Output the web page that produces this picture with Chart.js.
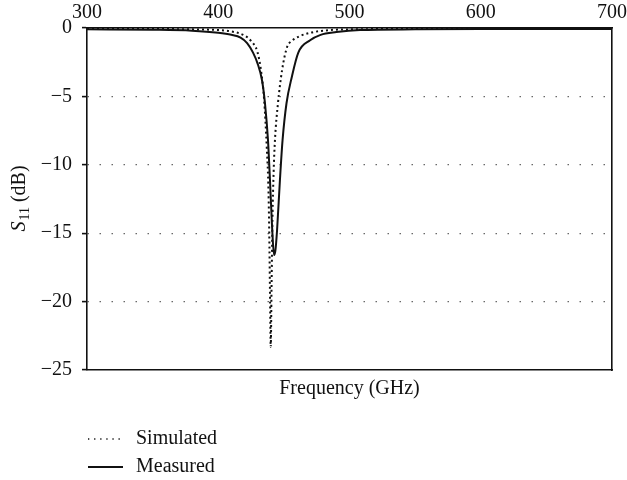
<!DOCTYPE html>
<html>
<head>
<meta charset="utf-8">
<script src="https://cdn.jsdelivr.net/npm/chart.js@4.4.1/dist/chart.umd.min.js"></script>
<style>
  html,body{margin:0;padding:0;background:#fff;}
  #wrap{width:627px;height:480px;position:relative;}
</style>
</head>
<body>
<div id="wrap"><canvas id="c" width="627" height="480"></canvas></div>
<script>
// frequency (GHz) / S11 (dB)
const freqSim = [300, 350, 380, 400, 410, 420, 425, 430, 433, 435, 437, 438.3, 439, 439.5, 440, 440.6, 441.3, 442.2, 443.2, 445.5, 448.6, 452.4, 456, 462, 470, 485, 500, 550, 600, 700];
const s11Sim  = [-0.05, -0.07, -0.1, -0.15, -0.25, -0.55, -0.95, -1.8, -3.4, -5.3, -8.8, -12, -16, -20, -23.3, -19, -14, -10.5, -8.2, -5.5, -3.1, -1.4, -0.95, -0.6, -0.35, -0.15, -0.1, -0.07, -0.05, -0.05];

const freqMeas = [300, 350, 380, 400, 410, 417, 422, 426.5, 430, 433.3, 435.6, 437.9, 439.4, 441, 442.5, 443.5, 444.8, 447, 449, 452, 456, 461, 470, 478, 490, 508, 550, 600, 700];
const s11Meas  = [-0.1, -0.13, -0.2, -0.35, -0.5, -0.7, -1.1, -1.8, -2.6, -3.8, -5.5, -8.2, -11.1, -14.5, -16.6, -16.3, -14.8, -11.1, -8.2, -5.5, -3.6, -1.8, -0.9, -0.5, -0.3, -0.15, -0.1, -0.08, -0.08];

const xTicks = [300, 400, 500, 600, 700];
const yTicks = [0, -5, -10, -15, -20, -25];

const FONT = "'Liberation Serif', 'DejaVu Serif', serif";

function pts(xs, ys){ return xs.map((x,i)=>({x:x, y:ys[i]})); }
function minus(v){ return v < 0 ? "\u2212" + Math.abs(v) : String(v); }

// y title: italic S with subscript 11
const yTitle = {
  id: "yTitle",
  afterDraw(chart){
    const ctx = chart.ctx, a = chart.chartArea;
    const cy = (a.top + a.bottom) / 2, cx = 18;
    ctx.save();
    ctx.translate(cx, cy);
    ctx.rotate(-Math.PI/2);
    ctx.fillStyle = "#111";
    ctx.textBaseline = "alphabetic";
    const f1 = "italic 20px " + FONT, f2 = "14px " + FONT, f3 = "20px " + FONT;
    ctx.font = f1; const w1 = ctx.measureText("S").width;
    ctx.font = f2; const w2 = ctx.measureText("11").width;
    ctx.font = f3; const w3 = ctx.measureText(" (dB)").width;
    let x = -(w1 + w2 + w3) / 2;
    const base = 7;
    ctx.font = f1; ctx.fillText("S", x, base); x += w1 + 1;
    ctx.font = f2; ctx.fillText("11", x, base + 4); x += w2;
    ctx.font = f3; ctx.fillText(" (dB)", x, base);
    ctx.restore();
  }
};

// legend stacked under the plot
const legendBelow = {
  id: "legendBelow",
  afterDraw(chart){
    const ctx = chart.ctx;
    const rows = [439, 467];
    ctx.save();
    chart.data.datasets.forEach((ds, i)=>{
      const y = rows[i];
      ctx.strokeStyle = "#111";
      if(ds.borderDash && ds.borderDash.length){ ctx.lineWidth = 1.3; ctx.setLineDash([1.3, 4.8]); }
      else { ctx.lineWidth = 2.2; ctx.setLineDash([]); }
      ctx.beginPath(); ctx.moveTo(88, y); ctx.lineTo(123, y); ctx.stroke();
      ctx.setLineDash([]);
      ctx.fillStyle = "#111";
      ctx.font = "20px " + FONT;
      ctx.textBaseline = "middle";
      ctx.fillText(ds.label, 136, y);
    });
    ctx.restore();
  }
};

function noSidePad(s){ s.paddingLeft = 0; s.paddingRight = 0; }

new Chart(document.getElementById("c").getContext("2d"), {
  type: "line",
  data: {
    datasets: [
      { label: "Simulated", data: pts(freqSim, s11Sim), borderColor: "#111", borderWidth: 2, borderDash: [2, 3],
        pointRadius: 0, cubicInterpolationMode: "monotone", fill: false },
      { label: "Measured", data: pts(freqMeas, s11Meas), borderColor: "#111", borderWidth: 2,
        pointRadius: 0, cubicInterpolationMode: "monotone", fill: false }
    ]
  },
  options: {
    responsive: false,
    animation: false,
    layout: { padding: { left: 0, right: 0, top: 0, bottom: 70 } },
    plugins: { legend: { display: false }, tooltip: { enabled: false } },
    scales: {
      x: {
        type: "linear", position: "top", min: 300, max: 700,
        afterBuildTicks: s => { s.ticks = xTicks.map(v=>({value:v})); },
        afterFit: s => { s.height = 28; noSidePad(s); },
        grid: { display: false, drawTicks: false },
        border: { display: true, color: "#111", width: 1.6 },
        ticks: { color: "#111", padding: 3, maxRotation: 0, font: { family: FONT, size: 20 } }
      },
      x2: {
        type: "linear", position: "bottom", min: 300, max: 700,
        afterFit: s => { s.height = 40; noSidePad(s); },
        grid: { display: false, drawTicks: false },
        border: { display: true, color: "#111", width: 1.6 },
        ticks: { display: false },
        title: { display: true, text: "Frequency (GHz)", color: "#111", padding: { top: 0, bottom: 9 },
                 font: { family: FONT, size: 20 } }
      },
      y: {
        type: "linear", position: "left", min: -25, max: 0,
        afterBuildTicks: s => { s.ticks = yTicks.map(v=>({value:v})); },
        afterFit: s => { s.width = 87; },
        grid: {
          color: c => (c.tick && (c.tick.value === 0 || c.tick.value === -25)) ? "rgba(0,0,0,0)" : "#444",
          lineWidth: 1.2, drawTicks: true, tickLength: 5, tickColor: "#111", tickWidth: 1.6, tickBorderDash: []
        },
        border: { display: true, color: "#111", width: 1.6, dash: [1.2, 10.8] },
        ticks: { color: "#111", padding: 10, font: { family: FONT, size: 20 }, callback: v => minus(v) }
      },
      y2: {
        type: "linear", position: "right", min: -25, max: 0,
        afterFit: s => { s.width = 15; },
        grid: { display: false, drawTicks: false },
        border: { display: true, color: "#111", width: 1.6 },
        ticks: { display: false }
      }
    }
  },
  plugins: [yTitle, legendBelow]
});
</script>
</body>
</html>
